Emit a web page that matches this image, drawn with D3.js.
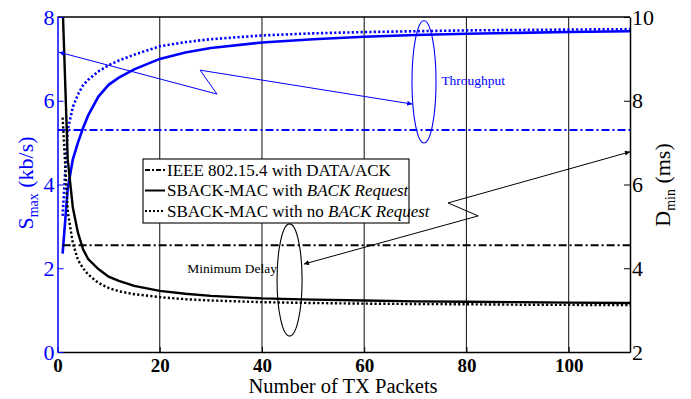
<!DOCTYPE html>
<html>
<head>
<meta charset="utf-8">
<script src="https://cdn.jsdelivr.net/npm/d3@7"></script>
<style>
  body { margin: 0; background: #fff; }
</style>
</head>
<body>
<svg id="chart" width="691" height="399"></svg>
<script>
const packets = [1, 2, 3, 4, 5, 6, 8, 10, 12, 15, 20, 25, 30, 40, 50, 60, 70, 80, 90, 100, 112];

// throughput, kb/s (left axis)
const sBack = [2.35, 3.9, 4.6, 5.0, 5.35, 5.65, 6.1, 6.38, 6.55, 6.75, 7.0, 7.15, 7.26, 7.39, 7.47, 7.53, 7.57, 7.6, 7.62, 7.64, 7.66];
const sNoBack = [3.25, 5.3, 5.85, 6.15, 6.37, 6.5, 6.7, 6.85, 6.96, 7.1, 7.3, 7.4, 7.47, 7.56, 7.61, 7.64, 7.66, 7.68, 7.69, 7.7, 7.71];
const sIeee = 5.3;

// minimum delay, ms (right axis)
const dBack = [10.3, 6.6, 5.45, 4.85, 4.45, 4.22, 3.98, 3.8, 3.7, 3.58, 3.46, 3.39, 3.34, 3.28, 3.25, 3.23, 3.21, 3.2, 3.19, 3.18, 3.17];
const dNoBack = [7.6, 5.35, 4.6, 4.2, 4.0, 3.85, 3.65, 3.53, 3.45, 3.38, 3.31, 3.26, 3.23, 3.19, 3.17, 3.155, 3.145, 3.14, 3.13, 3.125, 3.12];
const dIeee = 4.55;

const xTicks = [0, 20, 40, 60, 80, 100];
const leftTicks = [0, 2, 4, 6, 8];
const rightTicks = [2, 4, 6, 8, 10];

const legendLabels = [
  ["IEEE 802.15.4 with DATA/ACK", ""],
  ["SBACK-MAC with ", "BACK Request"],
  ["SBACK-MAC with no ", "BACK Request"]
];

// annotation anchors in data units
const throughputArrow = [[0.3, 7.16], [31.2, 6.16], [27.9, 6.73], [69.4, 5.92]];
const delayArrow = [[112, 6.78], [76.4, 5.56], [82.3, 5.25], [48.2, 4.1]];

const serif = "Liberation Serif";
const svg = d3.select("#chart");
const blue = "#0000ff";

const x = d3.scaleLinear().domain([0, 112]).range([57.5, 630]);
const yL = d3.scaleLinear().domain([0, 8]).range([352, 17]);
const yR = d3.scaleLinear().domain([2, 10]).range([352, 17]);

const defs = svg.append("defs");
defs.append("clipPath").attr("id", "plot")
  .append("rect")
  .attr("x", x(0)).attr("y", yL(8))
  .attr("width", x(112) - x(0)).attr("height", yL(0) - yL(8));

const marker = (id, color) => defs.append("marker")
  .attr("id", id)
  .attr("viewBox", "0 0 10 10")
  .attr("refX", 10).attr("refY", 5)
  .attr("markerWidth", 7).attr("markerHeight", 5)
  .attr("markerUnits", "userSpaceOnUse")
  .attr("orient", "auto-start-reverse")
  .append("path").attr("d", "M0,0 L10,5 L0,10 z").attr("fill", color);
marker("ab", blue);
marker("ak", "#000");

// vertical grid
svg.append("g")
  .selectAll("line")
  .data(xTicks.slice(1))
  .join("line")
  .attr("x1", d => x(d)).attr("x2", d => x(d))
  .attr("y1", yL(0)).attr("y2", yL(8))
  .attr("stroke", "#222").attr("stroke-width", 1.1);

const plot = svg.append("g").attr("clip-path", "url(#plot)");

const lineL = d3.line().x((d, i) => x(packets[i])).y(d => yL(d));
const lineR = d3.line().x((d, i) => x(packets[i])).y(d => yR(d));

const dashDot = "8,3,2,3";
const dotted = "2.2,2.2";

// throughput curves
plot.append("line")
  .attr("x1", x(0)).attr("x2", x(112))
  .attr("y1", yL(sIeee)).attr("y2", yL(sIeee))
  .attr("stroke", blue).attr("stroke-width", 2).attr("stroke-dasharray", dashDot);
plot.append("path").datum(sBack).attr("d", lineL)
  .attr("fill", "none").attr("stroke", blue).attr("stroke-width", 2.6);
plot.append("path").datum(sNoBack).attr("d", lineL)
  .attr("fill", "none").attr("stroke", blue).attr("stroke-width", 2.6).attr("stroke-dasharray", dotted);

// delay curves
plot.append("line")
  .attr("x1", x(1)).attr("x2", x(112))
  .attr("y1", yR(dIeee)).attr("y2", yR(dIeee))
  .attr("stroke", "#000").attr("stroke-width", 2).attr("stroke-dasharray", dashDot);
plot.append("path").datum(dBack).attr("d", lineR)
  .attr("fill", "none").attr("stroke", "#000").attr("stroke-width", 2.4);
plot.append("path").datum(dNoBack).attr("d", lineR)
  .attr("fill", "none").attr("stroke", "#000").attr("stroke-width", 2.4).attr("stroke-dasharray", dotted);

// frame
svg.append("line").attr("x1", x(0)).attr("x2", x(112)).attr("y1", yL(8)).attr("y2", yL(8))
  .attr("stroke", "#000").attr("stroke-width", 1.5);

// axes
const bottom = svg.append("g")
  .attr("transform", `translate(0,${yL(0)})`)
  .call(d3.axisBottom(x).tickValues(xTicks).tickSize(-5).tickSizeOuter(0).tickPadding(7));
bottom.attr("font-family", null).attr("font-size", null);
bottom.select(".domain").attr("stroke-width", 1.5);
bottom.selectAll("text").style("font-family", serif).style("font-size", "19px")
  .style("font-weight", "bold").attr("fill", "#000");

const left = svg.append("g")
  .attr("transform", `translate(${x(0)},0)`)
  .call(d3.axisLeft(yL).tickValues(leftTicks).tickSize(-6).tickSizeOuter(0).tickPadding(3));
left.attr("font-family", null).attr("font-size", null);
left.select(".domain").attr("stroke", blue).attr("stroke-width", 1.5);
left.selectAll(".tick line").attr("stroke", blue);
left.selectAll("text").style("font-family", serif).style("font-size", "22px").attr("fill", blue);

const right = svg.append("g")
  .attr("transform", `translate(${x(112)},0)`)
  .call(d3.axisRight(yR).tickValues(rightTicks).tickSize(-6).tickSizeOuter(0).tickPadding(2));
right.attr("font-family", null).attr("font-size", null);
right.select(".domain").attr("stroke-width", 1.5);
right.selectAll("text").style("font-family", serif).style("font-size", "22px").attr("fill", "#000");

// axis titles
const sl = svg.append("text")
  .attr("transform", `translate(33,183) rotate(-90)`)
  .attr("text-anchor", "middle").style("font-family", serif).style("font-size", "22px").attr("fill", blue);
sl.append("tspan").text("S");
sl.append("tspan").style("font-size", "14px").attr("dy", 5).text("max");
sl.append("tspan").attr("dy", -5).text(" (kb/s)");

const dl = svg.append("text")
  .attr("transform", `translate(670,185) rotate(-90)`)
  .attr("text-anchor", "middle").style("font-family", serif).style("font-size", "22px").attr("fill", "#000");
dl.append("tspan").text("D");
dl.append("tspan").style("font-size", "14px").attr("dy", 5).text("min");
dl.append("tspan").attr("dy", -5).text(" (ms)");

svg.append("text")
  .attr("x", 343).attr("y", 393)
  .attr("text-anchor", "middle").style("font-family", serif).style("font-size", "20.5px")
  .text("Number of TX Packets");

// annotations
svg.append("path")
  .attr("d", d3.line().x(d => x(d[0])).y(d => yL(d[1]))(throughputArrow))
  .attr("fill", "none").attr("stroke", blue).attr("stroke-width", 1)
  .attr("marker-start", "url(#ab)").attr("marker-end", "url(#ab)");
svg.append("ellipse")
  .attr("cx", x(71.7)).attr("cy", yL(6.45))
  .attr("rx", x(2.35) - x(0)).attr("ry", yL(0) - yL(1.46))
  .attr("fill", "none").attr("stroke", blue).attr("stroke-width", 1.1);
svg.append("text")
  .attr("x", x(75.1)).attr("y", yL(6.38))
  .style("font-family", serif).style("font-size", "13.5px").attr("fill", blue).text("Throughput");

svg.append("path")
  .attr("d", d3.line().x(d => x(d[0])).y(d => yR(d[1]))(delayArrow))
  .attr("fill", "none").attr("stroke", "#000").attr("stroke-width", 1)
  .attr("marker-start", "url(#ak)").attr("marker-end", "url(#ak)");
svg.append("ellipse")
  .attr("cx", x(45.4)).attr("cy", yR(3.72))
  .attr("rx", x(2.45) - x(0)).attr("ry", yR(2) - yR(3.34))
  .attr("fill", "none").attr("stroke", "#000").attr("stroke-width", 1.1);
svg.append("text")
  .attr("x", x(25.4)).attr("y", yR(3.89))
  .style("font-family", serif).style("font-size", "13.5px").attr("fill", "#000").text("Minimum Delay");

// legend
const lg = svg.append("g").attr("transform", "translate(143,159)");
lg.append("rect").attr("width", 266).attr("height", 64)
  .attr("fill", "#fff").attr("stroke", "#000").attr("stroke-width", 1.1);
const styles = ["5,2,2,2", null, "2,2"];
legendLabels.forEach((lab, i) => {
  const yy = 11 + i * 20.5;
  lg.append("line").attr("x1", 2).attr("x2", 22).attr("y1", yy).attr("y2", yy)
    .attr("stroke", "#000").attr("stroke-width", 2)
    .attr("stroke-dasharray", styles[i]);
  const t = lg.append("text").attr("x", 24).attr("y", yy + 5.5)
    .style("font-family", serif).style("font-size", "17px");
  t.append("tspan").text(lab[0]);
  if (lab[1]) t.append("tspan").style("font-style", "italic").text(lab[1]);
});
</script>
</body>
</html>
